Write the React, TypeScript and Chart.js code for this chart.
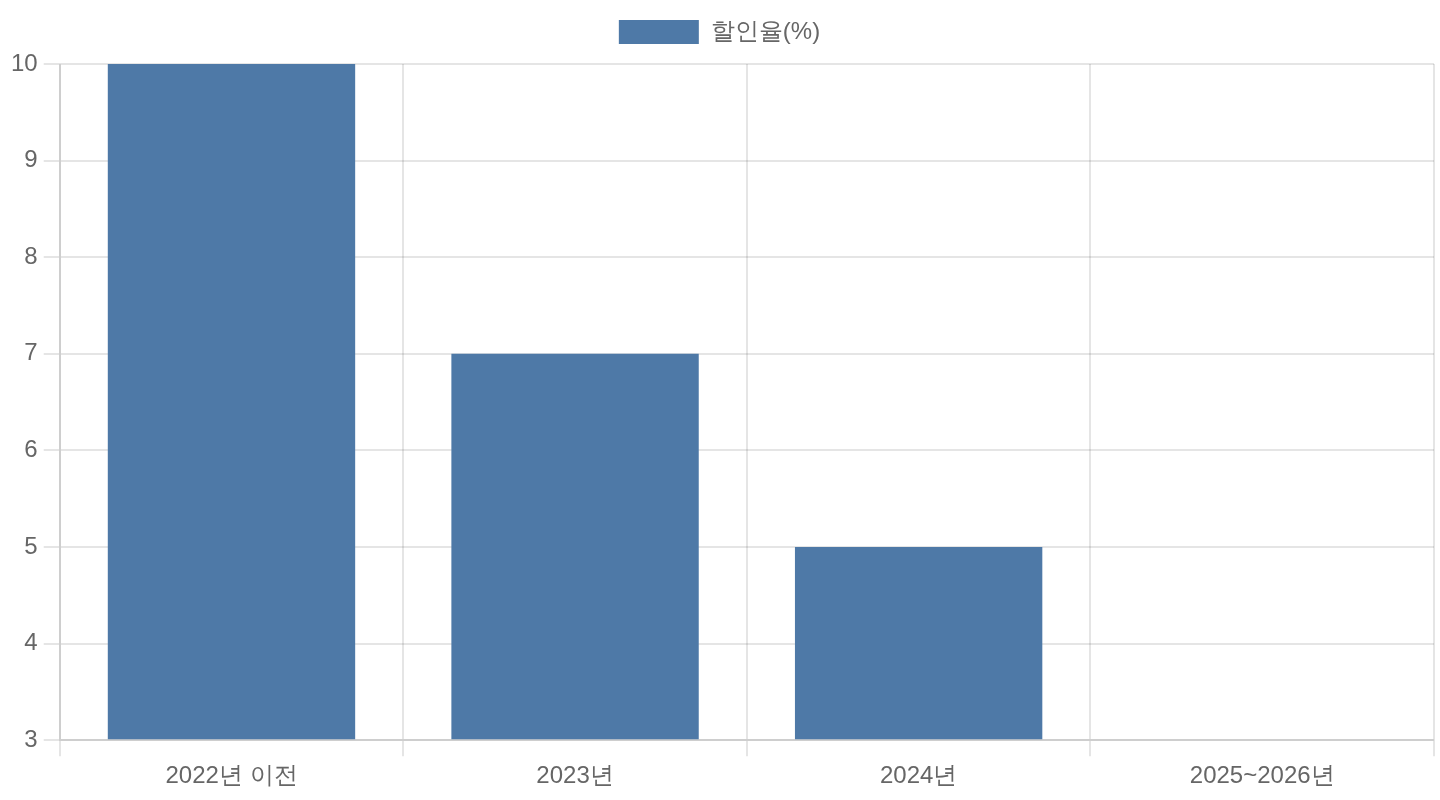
import React, { useEffect, useRef } from "react";
import { Chart, registerables } from "chart.js";

Chart.register(...registerables);

const categories = ["2022년 이전", "2023년", "2024년", "2025~2026년"];
const discountRates = [10, 7, 5, 3];
const seriesLabel = "할인율(%)";
const yMin = 3;
const yMax = 10;

const legendMargin = {
  id: "legendMargin",
  beforeInit(chart: any) {
    const legend = chart.legend;
    if (!legend) return;
    const originalFit = legend.fit;
    legend.fit = function () {
      originalFit.bind(this)();
      this.height += 10;
    };
  },
};

export default function App() {
  const ref = useRef<HTMLCanvasElement | null>(null);

  useEffect(() => {
    document.body.style.margin = "0";
    const canvas = ref.current;
    if (!canvas) return;
    const chart = new Chart(canvas, {
      type: "bar",
      data: {
        labels: categories,
        datasets: [
          {
            label: seriesLabel,
            data: discountRates,
            backgroundColor: "#4e79a7",
            borderWidth: 0,
            base: yMin,
          },
        ],
      },
      options: {
        animation: false,
        responsive: false,
        devicePixelRatio: 1,
        layout: { padding: { left: 5, right: 6, bottom: 3, top: 0 } },
        font: { size: 24 },
        plugins: {
          legend: {
            labels: { boxWidth: 80, padding: 20, color: "#666", font: { size: 24 } },
          },
          tooltip: { enabled: false },
        },
        scales: {
          x: {
            grid: { lineWidth: 2, tickLength: 16 },
            border: { width: 2 },
            ticks: { color: "#666", font: { size: 24 }, padding: 6 },
          },
          y: {
            min: yMin,
            max: yMax,
            grid: { lineWidth: 2, tickLength: 16 },
            border: { width: 2 },
            ticks: { stepSize: 1, color: "#666", font: { size: 24 }, padding: 6 },
          },
        },
      },
      plugins: [legendMargin],
    });
    return () => chart.destroy();
  }, []);

  return (
    <div style={{ position: "absolute", left: 0, top: 0, width: 1440, height: 800 }}>
      <canvas ref={ref} width={1440} height={800} />
    </div>
  );
}
